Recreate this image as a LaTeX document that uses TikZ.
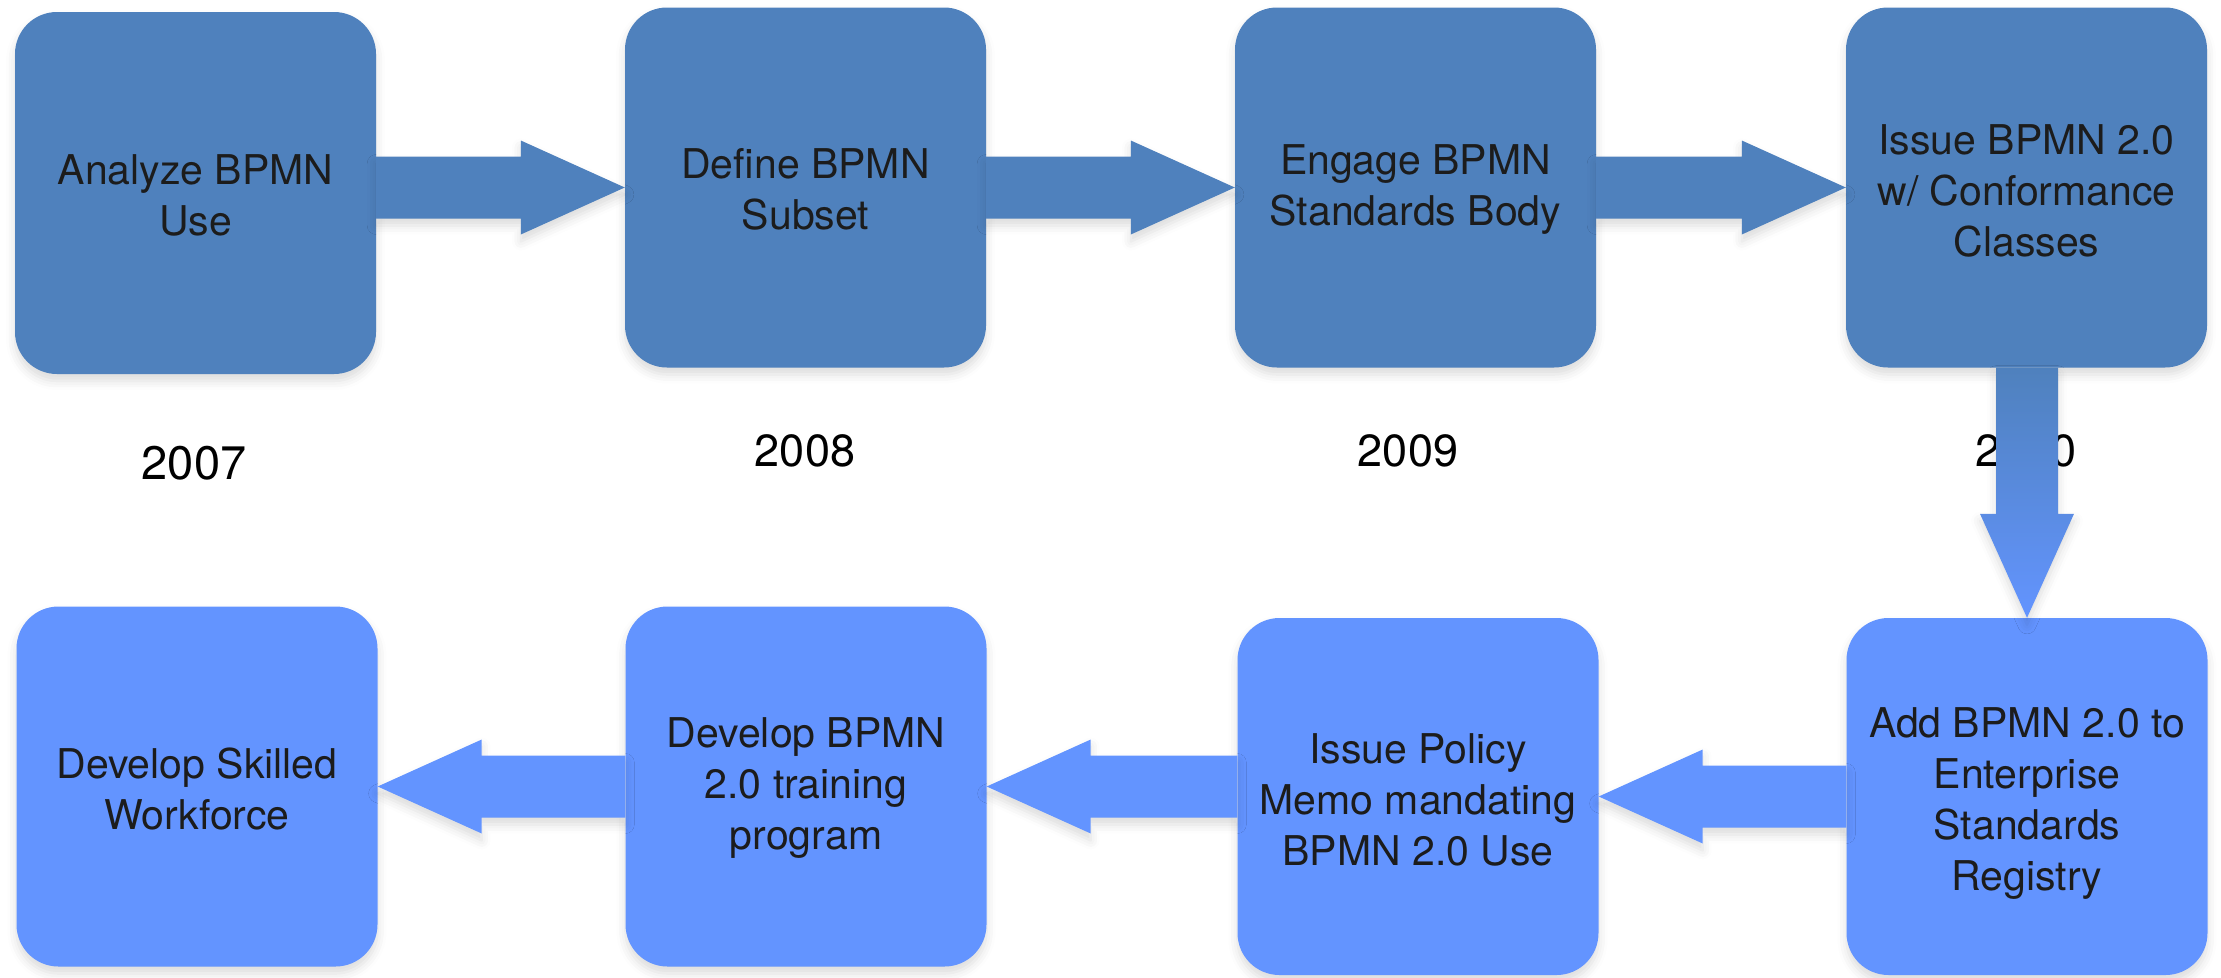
\documentclass[tikz,border=0pt]{standalone}
\usepackage{fontspec}
\setmainfont{TeX Gyre Heros}
\usetikzlibrary{calc,shadows.blur}

\definecolor{topblue}{HTML}{4F81BD}
\definecolor{lowblue}{HTML}{6394FF}
\definecolor{inkgray}{HTML}{1C1C1C}

% horizontal block arrows: tip on the target's side, shaft from the source's side
\newcommand\arrowright[3]{%
  \path (#1.east |- #2.west) coordinate (ars) (#2.west) coordinate (art);
  \fill[#3,softshadow] ($(ars)+(0,31)$) -- ($(art)+(-104,31)$) -- ($(art)+(-104,47)$)
    -- (art) -- ($(art)+(-104,-47)$) -- ($(art)+(-104,-31)$) -- ($(ars)+(0,-31)$) -- cycle;}
\newcommand\arrowleft[3]{%
  \path (#1.west |- #2.east) coordinate (als) (#2.east) coordinate (alt);
  \fill[#3,softshadow] ($(als)+(0,31)$) -- ($(alt)+(104,31)$) -- ($(alt)+(104,47)$)
    -- (alt) -- ($(alt)+(104,-47)$) -- ($(alt)+(104,-31)$) -- ($(als)+(0,-31)$) -- cycle;}

\begin{document}
\begin{tikzpicture}[x=1pt,y=1pt,
  softshadow/.style={blur shadow={shadow xshift=0pt,shadow yshift=-7pt,
    shadow blur radius=9pt,shadow opacity=14}},
  stepbox/.style={rounded corners=42pt,minimum width=361pt,minimum height=360pt,
    inner sep=0pt,softshadow},
  upper/.style={stepbox,fill=topblue},
  lower/.style={stepbox,fill=lowblue},
  boxtext/.style={align=center,inner sep=0pt,text=inkgray,font=\fontsize{41}{51}\selectfont},
  year/.style={font=\fontsize{45}{54}\selectfont,text=black}
]
\useasboundingbox (0,0) rectangle (2221,-977);

% upper row
\node[upper,minimum height=362pt] (b1) at (195.5,-193) {};
\node[upper] (b2) at (805.5,-187.5) {};
\node[upper] (b3) at (1415.5,-187.5) {};
\node[upper] (b4) at (2026.5,-187.5) {};

% lower row
\node[lower] (b5) at (197,-786.5) {};
\node[lower] (b6) at (806,-786.5) {};
\node[lower,minimum height=357pt] (b7) at (1418,-796.5) {};
\node[lower,minimum height=357pt] (b8) at (2027,-796.5) {};

% box captions
\node[boxtext] (t1) at ([yshift=-2pt]b1.center) {Analyze BPMN\\Use};
\node[boxtext] (t2) at ([yshift=-2pt]b2.center) {Define BPMN\\Subset};
\node[boxtext] (t3) at ([yshift=-2pt]b3.center) {Engage BPMN\\Standards Body};
\node[boxtext] (t4) at ([yshift=-3pt]b4.center) {Issue BPMN 2.0\\w/ Conformance\\Classes};
\node[boxtext] (t5) at ([yshift=-2pt]b5.center) {Develop Skilled\\Workforce};
\node[boxtext] (t6) at ([yshift=-2pt]b6.center) {Develop BPMN\\2.0 training\\program};
\node[boxtext] (t7) at ([yshift=-3pt]b7.center) {Issue Policy\\Memo mandating\\BPMN 2.0 Use};
\node[boxtext] (t8) at ([yshift=-7pt]b8.center) {Add BPMN 2.0 to\\Enterprise\\Standards\\Registry};

% years
\node[year,font=\fontsize{47}{56}\selectfont] (y07) at (194,-463) {2007};
\node[year] (y08) at (805,-451) {2008};
\node[year] (y09) at (1408,-451) {2009};
\node[year] (y10) at (2026,-451) {2010};

% connectors
\arrowright{b1}{b2}{topblue}
\arrowright{b2}{b3}{topblue}
\arrowright{b3}{b4}{topblue}
\arrowleft{b8}{b7}{lowblue}
\arrowleft{b7}{b6}{lowblue}
\arrowleft{b6}{b5}{lowblue}

% down arrow from the upper row to the lower row, shaded between the two blues
\path (b4.south -| b8.north) coordinate (ds) (b8.north) coordinate (dt);
\shade[top color=topblue,bottom color=lowblue,softshadow]
  ($(ds)+(-31,0)$) -- ($(dt)+(-31,104)$) -- ($(dt)+(-47,104)$) -- (dt)
  -- ($(dt)+(47,104)$) -- ($(dt)+(31,104)$) -- ($(ds)+(31,0)$) -- cycle;
\end{tikzpicture}
\end{document}
